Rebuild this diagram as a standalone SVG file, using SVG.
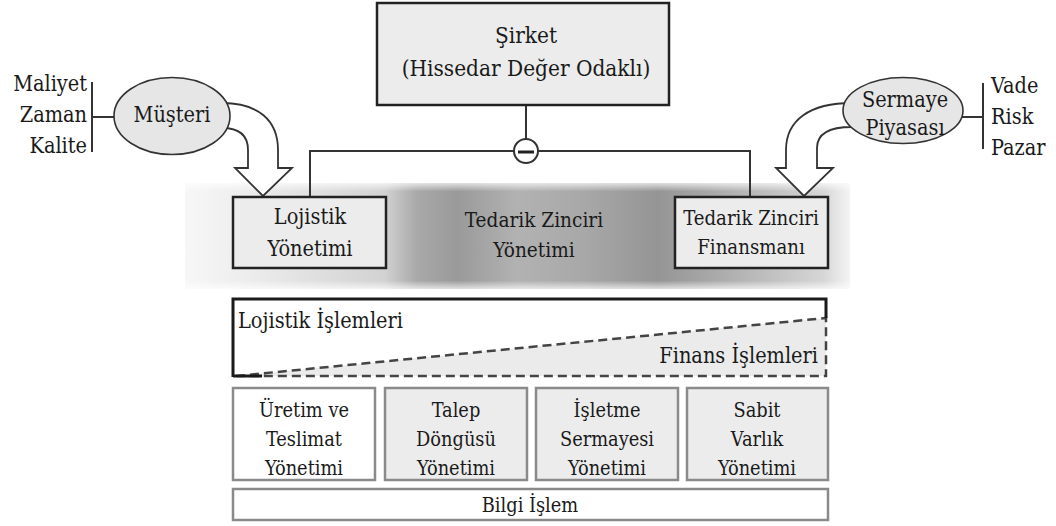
<svg xmlns="http://www.w3.org/2000/svg" width="1056" height="526" viewBox="0 0 1056 526">
  <defs>
    <linearGradient id="bandH" x1="0" y1="0" x2="1" y2="0">
      <stop offset="0" stop-color="#f7f7f7"/>
      <stop offset="0.10" stop-color="#ececec"/>
      <stop offset="0.30" stop-color="#d2d2d2"/>
      <stop offset="0.35" stop-color="#a8a8a8"/>
      <stop offset="0.41" stop-color="#9a9a9a"/>
      <stop offset="0.50" stop-color="#b2b2b2"/>
      <stop offset="0.60" stop-color="#a8a8a8"/>
      <stop offset="0.71" stop-color="#959595"/>
      <stop offset="0.78" stop-color="#a5a5a5"/>
      <stop offset="0.96" stop-color="#d6d6d6"/>
      <stop offset="1" stop-color="#f4f4f4"/>
    </linearGradient>
    <linearGradient id="bandV" x1="0" y1="0" x2="0" y2="1">
      <stop offset="0" stop-color="#ffffff" stop-opacity="0.7"/>
      <stop offset="0.08" stop-color="#ffffff" stop-opacity="0"/>
      <stop offset="0.92" stop-color="#ffffff" stop-opacity="0"/>
      <stop offset="1" stop-color="#ffffff" stop-opacity="0.7"/>
    </linearGradient>
  </defs>
  <style>
    text { font-family: "DejaVu Serif Condensed", "DejaVu Serif", serif; font-stretch: condensed; fill: #1a1a1a; }
    .c { text-anchor: middle; }
    .box { fill: #ececec; stroke: #222; stroke-width: 2.5; }
    .ell { fill: #e6e6e6; stroke: #333; stroke-width: 1.6; }
    .line { fill: none; stroke: #333; stroke-width: 2; }
    .arrow { fill: #ffffff; stroke: #333; stroke-width: 1.8; stroke-linejoin: miter; }
    .cell { fill: #ececec; stroke: #8a8a8a; stroke-width: 2.5; }
    .white { fill: #ffffff; }
  </style>

  <rect width="1056" height="526" fill="#ffffff"/>

  <!-- shaded supply chain band -->
  <g id="band">
    <rect x="185" y="183" width="665" height="106" fill="url(#bandH)"/>
    <rect x="185" y="183" width="665" height="106" fill="url(#bandV)"/>
  </g>

  <!-- connectors -->
  <g id="connectors">
    <line class="line" x1="526" y1="106" x2="526" y2="139"/>
    <polyline class="line" points="310,197 310,151 514,151"/>
    <polyline class="line" points="538,151 750,151 750,197"/>
    <polyline class="line" points="92,82 92,152"/>
    <line class="line" x1="92" y1="117" x2="115" y2="117"/>
    <polyline class="line" points="983,83 983,149"/>
    <line class="line" x1="961" y1="117" x2="983" y2="117"/>
    <!-- curved block arrows -->
    <path class="arrow" d="M 222,103 C 258,103 278,120 278,150 L 278,168 L 292,168 L 263,196 L 235,168 L 248,168 L 248,150 C 248,136 240,128 222,128 Z"/>
    <path class="arrow" d="M 852,103 C 810,103 786,120 786,150 L 786,168 L 776,168 L 804,196 L 833,168 L 817,168 L 817,148 C 817,135 828,127 852,127 Z"/>
  </g>

  <g id="node-sirket">
    <rect class="box" x="377" y="3" width="292" height="102"/>
    <text class="c" x="526" y="43" font-size="22.4">Şirket</text>
    <text class="c" x="526" y="76" font-size="22.4">(Hissedar Değer Odaklı)</text>
  </g>

  <g id="node-minus">
    <circle cx="526" cy="151" r="12" fill="#ffffff" stroke="#333" stroke-width="2"/>
    <line x1="518" y1="152" x2="534" y2="152" stroke="#222" stroke-width="3"/>
  </g>

  <g id="node-musteri">
    <ellipse class="ell" cx="172" cy="116" rx="58" ry="38.5"/>
    <text class="c" x="172" y="122" font-size="21.5">Müşteri</text>
  </g>

  <g id="node-musteri-criteria">
    <text x="87" y="91" font-size="21.5" text-anchor="end">Maliyet</text>
    <text x="87" y="122" font-size="21.5" text-anchor="end">Zaman</text>
    <text x="87" y="153" font-size="21.5" text-anchor="end">Kalite</text>
  </g>

  <g id="node-sermaye">
    <ellipse class="ell" cx="903" cy="110.5" rx="60" ry="33"/>
    <text class="c" x="905" y="107" font-size="21.5">Sermaye</text>
    <text class="c" x="905" y="135" font-size="21.5">Piyasası</text>
  </g>

  <g id="node-sermaye-criteria">
    <text x="991" y="93" font-size="21.5">Vade</text>
    <text x="991" y="124" font-size="21.5">Risk</text>
    <text x="991" y="155" font-size="21.5">Pazar</text>
  </g>

  <g id="node-lojistik">
    <rect class="box" x="233" y="197" width="153" height="71"/>
    <text class="c" x="310" y="224" font-size="21.5">Lojistik</text>
    <text class="c" x="310" y="256" font-size="21.5">Yönetimi</text>
  </g>

  <g id="node-tzy">
    <text class="c" x="534" y="227" font-size="20.6">Tedarik Zinciri</text>
    <text class="c" x="534" y="257" font-size="20.6">Yönetimi</text>
  </g>

  <g id="node-finansman">
    <rect class="box" x="675" y="197" width="153" height="71"/>
    <text class="c" x="751" y="225" font-size="20.2">Tedarik Zinciri</text>
    <text class="c" x="751" y="254" font-size="20.2">Finansmanı</text>
  </g>

  <g id="node-islemler">
    <path d="M 236,376 L 826,318 L 826,376 Z" fill="#ebebeb" stroke="#444" stroke-width="2.5" stroke-dasharray="9,5"/>
    <path d="M 233,377 L 233,299 L 826,299 L 826,318" fill="none" stroke="#1a1a1a" stroke-width="3"/>
    <line x1="233" y1="376" x2="262" y2="376" stroke="#1a1a1a" stroke-width="3"/>
    <text x="238" y="328" font-size="21.5">Lojistik İşlemleri</text>
    <text x="818" y="363" font-size="21.5" text-anchor="end">Finans İşlemleri</text>
  </g>

  <g id="node-uretim">
    <rect class="cell white" x="233" y="388" width="142" height="92"/>
    <text class="c" x="304" y="417" font-size="19.8">Üretim ve</text>
    <text class="c" x="304" y="446" font-size="19.8">Teslimat</text>
    <text class="c" x="304" y="475" font-size="19.8">Yönetimi</text>
  </g>

  <g id="node-talep">
    <rect class="cell" x="385" y="388" width="142" height="92"/>
    <text class="c" x="456" y="417" font-size="19.8">Talep</text>
    <text class="c" x="456" y="446" font-size="19.8">Döngüsü</text>
    <text class="c" x="456" y="475" font-size="19.8">Yönetimi</text>
  </g>

  <g id="node-isletme">
    <rect class="cell" x="536" y="388" width="142" height="92"/>
    <text class="c" x="607" y="417" font-size="19.8">İşletme</text>
    <text class="c" x="607" y="446" font-size="19.8">Sermayesi</text>
    <text class="c" x="607" y="475" font-size="19.8">Yönetimi</text>
  </g>

  <g id="node-sabit">
    <rect class="cell" x="687" y="388" width="141" height="92"/>
    <text class="c" x="757" y="417" font-size="19.8">Sabit</text>
    <text class="c" x="757" y="446" font-size="19.8">Varlık</text>
    <text class="c" x="757" y="475" font-size="19.8">Yönetimi</text>
  </g>

  <g id="node-bilgi">
    <rect class="cell white" x="233" y="489" width="595" height="31"/>
    <text class="c" x="530" y="512" font-size="19.8">Bilgi İşlem</text>
  </g>
</svg>
